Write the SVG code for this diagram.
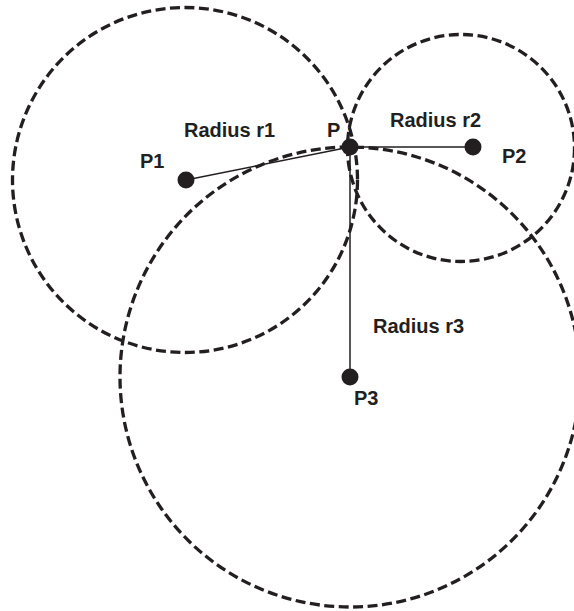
<svg xmlns="http://www.w3.org/2000/svg" width="574" height="611" viewBox="0 0 574 611">
  <style>
    .range { fill: none; stroke: #231f20; stroke-width: 3.3; stroke-dasharray: 10 4.5; }
    .radius { stroke: #231f20; stroke-width: 1.5; fill: none; }
    .dot { fill: #231f20; }
    .label { font-family: "Liberation Sans", Arial, sans-serif; font-weight: bold; font-size: 20px; fill: #231f20; }
  </style>
  <rect width="574" height="611" fill="#ffffff"/>

  <!-- range circles -->
  <g id="circles">
    <circle id="circle-r1" class="range" cx="185" cy="180" r="172.5"/>
    <circle id="circle-r2" class="range" cx="461" cy="148" r="113.5"/>
    <circle id="circle-r3" class="range" cx="350" cy="377" r="230"/>
  </g>

  <!-- radius lines -->
  <g id="connectors">
    <line class="radius" x1="186" y1="180" x2="350" y2="147"/>
    <line class="radius" x1="350" y1="147" x2="473" y2="147"/>
    <line class="radius" x1="350" y1="147" x2="350" y2="377"/>
  </g>

  <g id="node-P1">
    <circle class="dot" cx="186" cy="180" r="8.5"/>
    <text class="label" x="140" y="168">P1</text>
  </g>
  <g id="node-P2">
    <circle class="dot" cx="473" cy="147" r="8.5"/>
    <text class="label" x="502" y="163">P2</text>
  </g>
  <g id="node-P3">
    <circle class="dot" cx="350" cy="377" r="8.5"/>
    <text class="label" x="354" y="405">P3</text>
  </g>
  <g id="node-P">
    <circle class="dot" cx="350" cy="147" r="8.5"/>
    <text class="label" x="327" y="137">P</text>
  </g>

  <g id="labels">
    <text class="label" x="184" y="137">Radius r1</text>
    <text class="label" x="390" y="127">Radius r2</text>
    <text class="label" x="373" y="333">Radius r3</text>
  </g>
</svg>
